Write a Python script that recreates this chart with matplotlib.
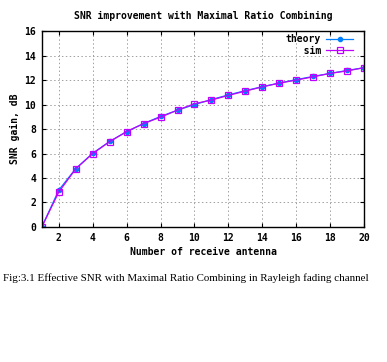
import matplotlib
matplotlib.use("Agg")
import matplotlib.pyplot as plt

# numero de antenas y ganancias
antenas = list(range(1, 21))
teoria = [0.0, 3.01, 4.77, 6.02, 6.99, 7.78, 8.45, 9.03, 9.54, 10.0,
          10.41, 10.79, 11.14, 11.46, 11.76, 12.04, 12.30, 12.55, 12.79, 13.01]
simulado = [0.0, 2.85, 4.75, 6.0, 6.97, 7.8, 8.45, 8.97, 9.55, 10.07,
            10.37, 10.75, 11.1, 11.45, 11.75, 12.0, 12.27, 12.55, 12.75, 13.02]
etiquetas = ["theory", "sim"]
xticks = [2, 4, 6, 8, 10, 12, 14, 16, 18, 20]
yticks = [0, 2, 4, 6, 8, 10, 12, 14, 16]

fuente = dict(family="DejaVu Sans Mono", fontweight="bold", fontsize=7)
ancho = max(len(e) for e in etiquetas)  # para alinear a la derecha (monoespaciada)

fig = plt.figure(figsize=(3.87, 3.62), dpi=100)
ax = fig.add_axes([0.108, 0.373, 0.833, 0.541])

ax.plot(antenas, teoria, color="#0080ff", lw=0.9, marker="o", ms=3,
        label=etiquetas[0].rjust(ancho))
ax.plot(antenas, simulado, color="#c000ff", lw=0.9, marker="s", ms=5,
        mfc="none", mew=0.9, label=etiquetas[1].rjust(ancho))

ax.set_xlim(1, 20)
ax.set_ylim(0, 16)
ax.set_xticks(xticks)
ax.set_yticks(yticks)
ax.grid(True, color="#a0a0a0", ls=(0, (1.5, 2.5)), lw=0.7)
for s in ax.spines.values():
    s.set_linewidth(1.0)
ax.tick_params(direction="in", length=3, width=0.8, top=True, right=True,
               pad=4)
for t in ax.get_xticklabels() + ax.get_yticklabels():
    t.set_fontfamily("DejaVu Sans Mono")
    t.set_fontweight("bold")
    t.set_fontsize(7)

ax.set_title("SNR improvement with Maximal Ratio Combining", pad=9, **fuente)
ax.set_xlabel("Number of receive antenna", labelpad=3, **fuente)
ax.set_ylabel("SNR gain, dB", labelpad=3, **fuente)

leg = ax.legend(loc="upper right", bbox_to_anchor=(0.972, 0.995),
                frameon=False, markerfirst=False,
                prop=dict(family="DejaVu Sans Mono", weight="bold", size=7),
                handlelength=2.8, borderaxespad=0.0, labelspacing=0.15,
                handletextpad=0.5, borderpad=0.2)

fig.text(0.008, 0.225, "Fig:3.1 Effective SNR with Maximal Ratio Combining in Rayleigh fading channel",
         family="Liberation Serif", fontsize=7.95, color="black")

fig.savefig("out.png", dpi=100)
plt.close()
